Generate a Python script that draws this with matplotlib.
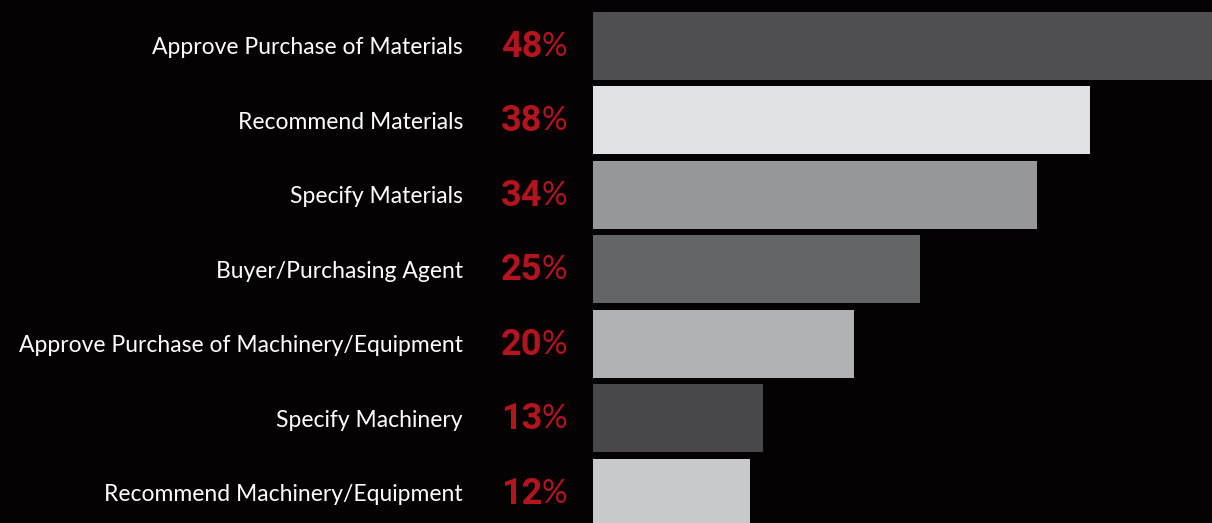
import matplotlib
matplotlib.use("Agg")
import matplotlib.pyplot as plt

categories = [
    "Approve Purchase of Materials",
    "Recommend Materials",
    "Specify Materials",
    "Buyer/Purchasing Agent",
    "Approve Purchase of Machinery/Equipment",
    "Specify Machinery",
    "Recommend Machinery/Equipment",
]
values = [48, 38, 34, 25, 20, 13, 12]
bar_colors = ["#4f4f51", "#e1e2e4", "#969798", "#646566", "#b1b2b3", "#48484a", "#c8c9ca"]

BG = "#050203"
RED = "#b3141d"

W, H = 1212, 523
fig = plt.figure(figsize=(W / 100, H / 100), dpi=100, facecolor=BG)
ax = fig.add_axes([593 / W, 0, (W - 593) / W, 1])
ax.set_facecolor(BG)

ypos = list(range(len(categories)))
ax.barh(ypos, values, height=0.913, color=bar_colors, left=0)
ax.set_xlim(0, 619 / 13.07)
ax.set_ylim(6.403, -0.617)
ax.axis("off")

for i, (cat, v) in enumerate(zip(categories, values)):
    ax.annotate(cat, xy=(0, i), xycoords="data", xytext=(-130, -2), textcoords="offset pixels",
                ha="right", va="center", color="white", fontsize=16.5, family="Lato",
                fontweight="normal", annotation_clip=False)
    ax.annotate(str(v), xy=(0, i), xycoords="data", xytext=(-51, -1), textcoords="offset pixels",
                ha="right", va="center", color=RED, fontsize=26, fontweight="bold", family="Roboto",
                annotation_clip=False)
    ax.annotate("%", xy=(0, i), xycoords="data", xytext=(-51, -1), textcoords="offset pixels",
                ha="left", va="center", color=RED, fontsize=23, fontweight="normal", family="Lato",
                annotation_clip=False)

fig.savefig("out.png", dpi=100, facecolor=BG)
